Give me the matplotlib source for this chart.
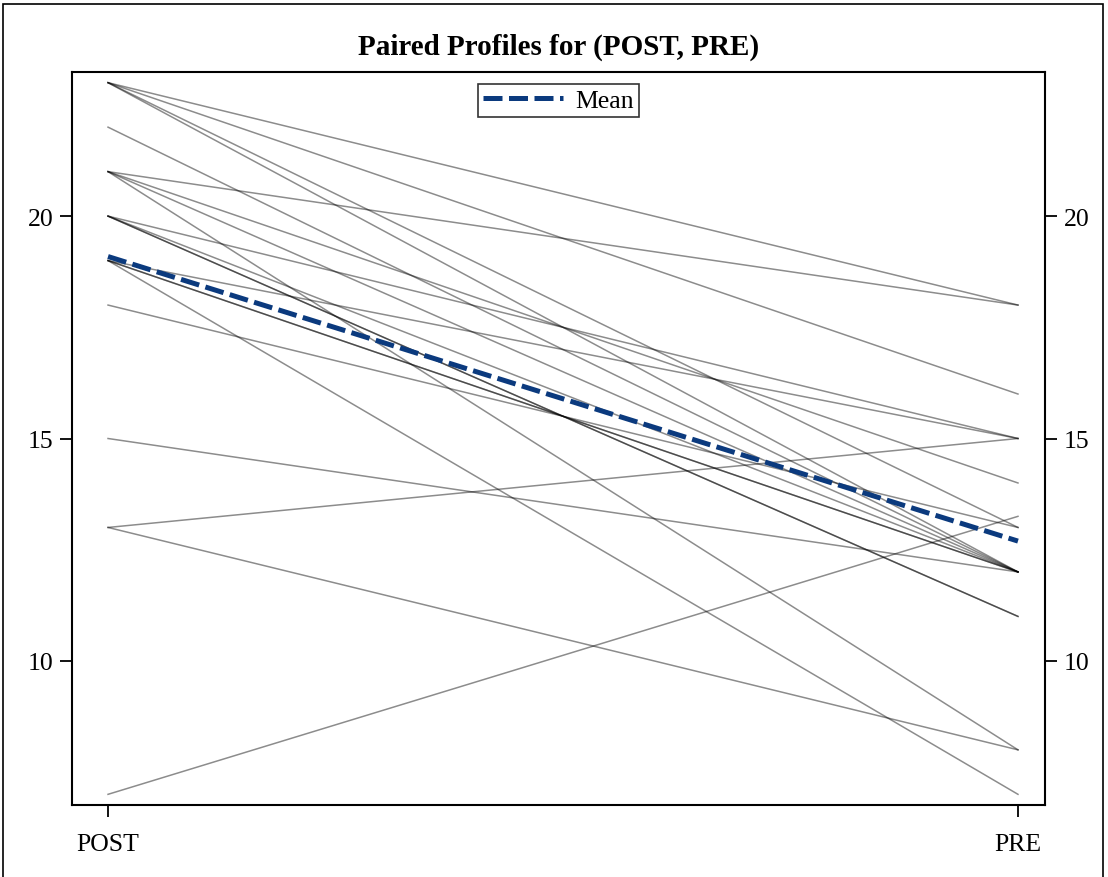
import matplotlib.pyplot as plt
from matplotlib.patches import Rectangle

# paired values (one entry per subject)
post = [23, 23, 23, 23, 22, 21, 21, 21, 21, 20, 20, 20, 20, 19, 19, 19, 19, 18, 15, 13, 13, 7]
pre = [18, 16, 13, 12, 12, 18, 14, 12, 8, 15, 12, 11, 11, 15, 12, 12, 7, 13, 12, 15, 8, 13.25]
x_labels = ['POST', 'PRE']
y_ticks = [10, 15, 20]


def main():
    plt.rcParams['font.family'] = ['Liberation Serif', 'DejaVu Serif']
    fig = plt.figure(figsize=(11.08, 8.78), dpi=100)
    ax = fig.add_axes([72 / 1108, 1 - 806 / 878, 973 / 1108, 733 / 878])

    for a, b in zip(post, pre):
        ax.plot([0, 1], [a, b], color='black', alpha=0.45, lw=1.1, zorder=2)

    mean_post = sum(post) / len(post)
    mean_pre = sum(pre) / len(pre)
    ax.plot([0, 1], [mean_post, mean_pre], color='#0b3a7e', lw=3.6,
            dashes=(3.8, 1.3), label='Mean', zorder=3)

    ax.set_xlim(-0.0396, 1.0297)
    ax.set_ylim(6.76, 23.24)
    ax.set_xticks([0, 1])
    ax.set_xticklabels(x_labels, fontsize=18.5)
    ax.set_yticks(y_ticks)
    ax.tick_params(axis='y', which='both', left=True, right=True,
                   labelleft=True, labelright=True, labelsize=18.5,
                   direction='out', length=8.5, width=1.3, pad=5)
    ax.tick_params(axis='x', direction='out', length=8.5, width=1.3, pad=12)
    for s in ax.spines.values():
        s.set_linewidth(1.5)

    ax.set_title('Paired Profiles for (POST, PRE)', fontsize=21,
                 fontweight='bold', pad=13)
    leg = ax.legend(loc='upper center', bbox_to_anchor=(0.5, 0.984), fontsize=18.5,
                    frameon=True, fancybox=False, handlelength=3.1,
                    borderpad=0.2, handletextpad=0.5, borderaxespad=0)
    leg.get_frame().set_edgecolor('black')
    leg.get_frame().set_linewidth(1.2)

    fig.patches.append(Rectangle((3 / 1108, -0.05), 1100 / 1108, 1.05 - 5 / 878,
                                 transform=fig.transFigure, fill=False,
                                 edgecolor='black', lw=1.2))
    fig.savefig('out.png', dpi=100)


if __name__ == "__main__":
    main()
